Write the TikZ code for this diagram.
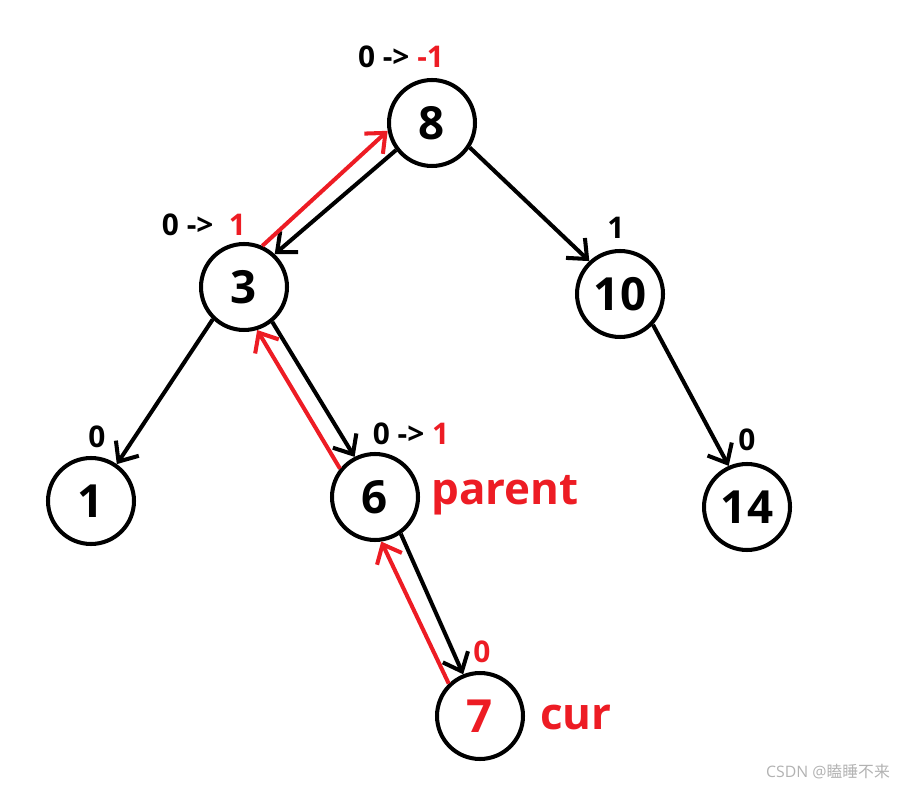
\documentclass[tikz,border=0pt]{standalone}
\usepackage{fontspec}
\setmainfont{Open Sans}
\newfontfamily\cjk{Noto Sans CJK SC}
\usetikzlibrary{arrows.meta}
\definecolor{hotred}{RGB}{237,28,36}

\begin{document}
\begin{tikzpicture}[x=0.02cm, y=-0.02cm, line width=2.3pt,
  vtx/.style={draw, circle, minimum size=1.72cm, inner sep=0pt,
    font=\fontsize{26}{28}\selectfont\bfseries},
  edge/.style={-{Straight Barb[length=3.2mm, width=5.5mm]}},
  back/.style={edge, hotred},
  bal/.style={font=\fontsize{17}{19}\selectfont\bfseries},
  tag/.style={hotred, font=\fontsize{25}{28}\selectfont\bfseries}]

  \useasboundingbox (0,0) rectangle (898,786);

  % 结点
  \node[vtx] (n8)  at (432,123) {8};
  \node[vtx] (n3)  at (244,287) {3};
  \node[vtx] (n10) at (620,294) {10};
  \node[vtx] (n1)  at (91,501)  {1};
  \node[vtx] (n6)  at (375,497) {6};
  \node[vtx] (n14) at (747,507) {14};
  \node[vtx, text=hotred] (n7) at (480,716) {7};

  % 父 -> 子
  \draw[edge] (n8.217)  -- (n3.47);
  \draw[edge] (n8.-33)  -- (n10.133);
  \draw[edge] (n3.226)  -- (n1.55);
  \draw[edge] (n3.309)  -- (n6.117);
  \draw[edge] (n10.-43) -- (n14.114);
  \draw[edge] (n6.-55)  -- (n7.112);

  % 向上更新平衡因子（红色）
  \draw[back] (n7.134) -- (n6.278);
  \draw[back] (n6.141) -- (n3.287);
  \draw[back] (n3.66)  -- (n8.190);

  % 平衡因子
  \node[bal] (b8)  at (401,57)  {0 -> \textcolor{hotred}{-1}};
  \node[bal] (b3)  at (204,225) {0 -> \ \textcolor{hotred}{1}};
  \node[bal] (b10) at (616,228) {1};
  \node[bal] (b1)  at (97,437)  {0};
  \node[bal] (b6)  at (411,434) {0 -> \textcolor{hotred}{1}};
  \node[bal] (b14) at (747,440) {0};
  \node[bal, text=hotred] (b7) at (482,652) {0};

  \node[tag] (parent) at (505,495) {parent};
  \node[tag] (cur)    at (576,717) {cur};

  \node[gray!60, font=\fontsize{9}{11}\selectfont] (mark) at (828,772)
    {CSDN @{\cjk 瞌睡不来}};
\end{tikzpicture}
\end{document}
